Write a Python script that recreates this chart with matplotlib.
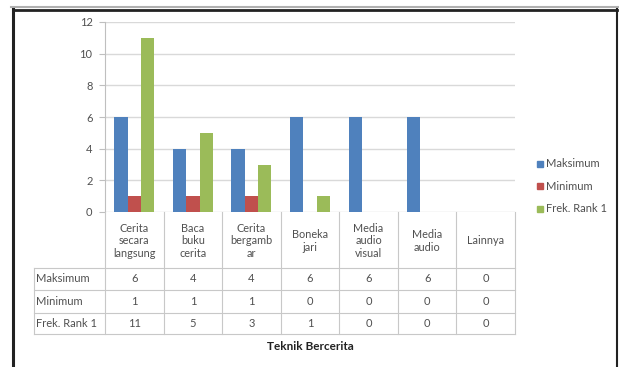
import matplotlib.pyplot as plt
from matplotlib.lines import Line2D
from matplotlib.transforms import blended_transform_factory

categories = ["Cerita\nsecara\nlangsung", "Baca\nbuku\ncerita", "Cerita\nbergamb\nar",
              "Boneka\njari", "Media\naudio\nvisual", "Media\naudio", "Lainnya"]
maksimum = [6, 4, 4, 6, 6, 6, 0]
minimum = [1, 1, 1, 0, 0, 0, 0]
frek_rank1 = [11, 5, 3, 1, 0, 0, 0]
series_names = ["Maksimum", "Minimum", "Frek. Rank 1"]
colors = ["#4F81BD", "#C0504D", "#9BBB59"]
xlabel = "Teknik Bercerita"

W, H = 619, 367
plt.rcParams['font.family'] = ['Lato', 'DejaVu Sans']
fig = plt.figure(figsize=(W / 100, H / 100), dpi=100)


def fy(py):
    return 1 - py / H


# outer frame
fig.add_artist(Line2D([11 / W, 1], [fy(6.5)] * 2, color="#b0b0b0", lw=1.5))
fig.add_artist(Line2D([13 / W, 617 / W], [fy(9.5)] * 2, color="#222222", lw=2))
fig.add_artist(Line2D([13 / W] * 2, [fy(9), 0], color="#222222", lw=2.2))
fig.add_artist(Line2D([616.5 / W] * 2, [fy(9), 0], color="#222222", lw=1.5))

x0, x1, y_top, y_bot = 105, 515, 22, 212
ax = fig.add_axes([x0 / W, fy(y_bot), (x1 - x0) / W, (y_bot - y_top) / H])

n = len(categories)
xs = list(range(n))
bw = 0.228
for i, (vals, name, c) in enumerate(zip([maksimum, minimum, frek_rank1], series_names, colors)):
    ax.bar([x + (i - 1) * bw for x in xs], vals, width=bw, color=c, label=name, zorder=3)

ax.set_xlim(-0.5, n - 0.5)
ax.set_ylim(0, 12)
ax.set_yticks(range(0, 13, 2))
ax.grid(axis="y", color="#d9d9d9", lw=1, zorder=0)
for s in ["top", "right", "bottom"]:
    ax.spines[s].set_visible(False)
ax.spines["left"].set_color("#bfbfbf")
ax.set_xticks([])
ax.tick_params(axis="y", length=4, color="#bfbfbf", labelsize=8, labelcolor="#505050", pad=5)

# data table under the chart
tr = blended_transform_factory(ax.transData, fig.transFigure)
grid_c = "#c8c8c8"
left = -0.5 - (x0 - 34) / ((x1 - x0) / n)
row_y = [212, 268, 290, 313, 334]
for yb in row_y[1:]:
    fig.add_artist(Line2D([left, n - 0.5], [fy(yb)] * 2, transform=tr, color=grid_c, lw=0.8))
for k in range(n + 1):
    fig.add_artist(Line2D([k - 0.5] * 2, [fy(212), fy(334)], transform=tr, color=grid_c, lw=0.8))
fig.add_artist(Line2D([left] * 2, [fy(268), fy(334)], transform=tr, color=grid_c, lw=0.8))

for k, cat in enumerate(categories):
    fig.text(k, fy(241), cat, transform=tr, ha="center", va="center", fontsize=7.8,
             color="#505050", linespacing=1.2)
for r, (name, vals) in enumerate(zip(series_names, [maksimum, minimum, frek_rank1])):
    yc = fy((row_y[r + 1] + row_y[r + 2]) / 2)
    fig.text(left + 0.04, yc, name, transform=tr, ha="left", va="center", fontsize=8, color="#505050")
    for k, v in enumerate(vals):
        fig.text(k, yc, str(v), transform=tr, ha="center", va="center", fontsize=8, color="#505050")

fig.text((x0 + x1) / 2 / W, fy(347), xlabel, ha="center", va="center", fontsize=8.5,
         fontweight="bold", color="#222222")

# legend
for name, c, ly in zip(series_names, colors, [164, 186, 209]):
    fig.add_artist(plt.Rectangle((537 / W, fy(ly + 3)), 6 / W, 6 / H, color=c, transform=fig.transFigure))
    fig.text(546 / W, fy(ly), name, ha="left", va="center", fontsize=8, color="#505050")

fig.savefig("out.png", dpi=100)
